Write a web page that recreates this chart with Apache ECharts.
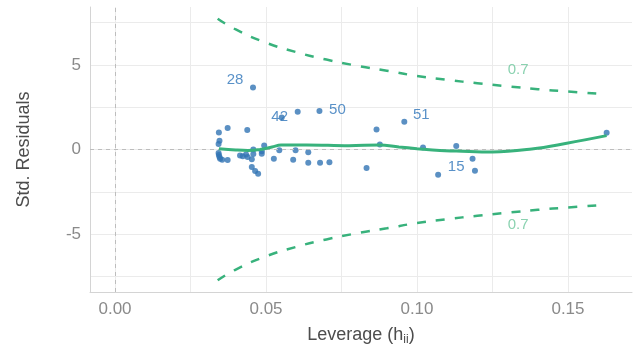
<!DOCTYPE html>
<html>
<head>
<meta charset="utf-8">
<script src="https://cdn.jsdelivr.net/npm/echarts@6/dist/echarts.min.js"></script>
<style>
html, body { margin: 0; padding: 0; background: #fff; }
#chart { width: 634px; height: 351px; }
</style>
</head>
<body>
<div id="chart"></div>
<script>
// observations: leverage (h_ii) vs standardized residual
var leverage = [0.0457, 0.0552, 0.0605, 0.0677, 0.0958, 0.0866, 0.0877, 0.102, 0.0833, 0.071,
    0.0679, 0.064, 0.064, 0.0598, 0.059, 0.0544, 0.0526, 0.0494, 0.0486, 0.0458,
    0.0458, 0.0453, 0.0453, 0.0464, 0.0474, 0.0438, 0.0373, 0.0344, 0.0346, 0.0343,
    0.0344, 0.0348, 0.0355, 0.0373, 0.0414, 0.0423, 0.0434, 0.0439, 0.107, 0.113,
    0.1184, 0.1192, 0.1628, 0.0486, 0.0343, 0.0346];
var stdResid = [3.67, 1.89, 2.24, 2.28, 1.64, 1.19, 0.30, 0.12, -1.09, -0.75,
    -0.79, -0.79, -0.16, -0.04, -0.6, -0.04, -0.54, 0.24, -0.25, 0.0,
    -0.26, -0.58, -1.04, -1.27, -1.43, 1.15, 1.27, 1.0, 0.52, 0.32,
    -0.33, -0.55, -0.6, -0.62, -0.36, -0.4, -0.3, -0.45, -1.49, 0.2,
    -0.54, -1.25, 0.99, -0.1, -0.2, -0.45];
var obsLabel = ['28', '42', '', '50', '51', '', '', '', '', '',
    '', '', '', '', '', '', '', '', '', '',
    '', '', '', '', '', '', '', '', '', '',
    '', '', '', '', '', '', '', '', '15', '',
    '', '', '', '', '', ''];

// smoother through the residuals
var smoothLev = [0.0344, 0.040, 0.044, 0.048, 0.052, 0.055, 0.0635, 0.0775, 0.0875, 0.094,
    0.100, 0.1076, 0.113, 0.125, 0.138, 0.1496, 0.1628];
var smoothRes = [0.05, -0.03, -0.06, 0.0, 0.15, 0.26, 0.27, 0.22, 0.27, 0.15,
    0.05, -0.06, -0.09, -0.15, 0.03, 0.37, 0.82];

// Cook's distance contour
var cookLev = [0.034, 0.04, 0.05, 0.06, 0.07, 0.08, 0.09, 0.10, 0.11, 0.12, 0.13, 0.14, 0.15, 0.162];
var cookUpper = [7.74, 7.1, 6.32, 5.76, 5.32, 4.96, 4.66, 4.35, 4.12, 3.92, 3.74, 3.57, 3.43, 3.28];
var cookLower = [-7.74, -7.1, -6.32, -5.76, -5.32, -4.96, -4.66, -4.35, -4.12, -3.92, -3.74, -3.57, -3.43, -3.28];
var cookLevel = '0.7';
var cookTextLev = 0.1335;
var cookTextRes = [4.7, -4.45];

var xLabels = [0, 0.05, 0.10, 0.15];
var xGrid = [0, 0.025, 0.05, 0.075, 0.10, 0.125, 0.15];
var yLabels = [-5, 0, 5];
var yGrid = [-7.5, -5, -2.5, 0, 2.5, 5, 7.5];

var blue = '#3274B4';
var green = '#38B27C';
var font = 'Liberation Sans';

// where each labelled point's text sits relative to the point
var labelOffset = {
    '28': [-18, -8],
    '42': [-2, -1],
    '50': [18, -1],
    '51': [17, -7],
    '15': [18, -8]
};

var points = leverage.map(function (h, i) {
    var id = obsLabel[i];
    var item = {value: [h, stdResid[i]]};
    if (id) {
        item.label = {
            show: true,
            formatter: id,
            position: 'inside',
            offset: labelOffset[id],
            color: '#2F76BA',
            fontSize: 15,
            fontFamily: font
        };
    }
    return item;
});

function zip(a, b) {
    return a.map(function (v, i) { return [v, b[i]]; });
}

var myChart = echarts.init(document.getElementById('chart'));

var option = {
    backgroundColor: '#fff',
    animation: false,
    grid: {left: 90, right: 2, top: 7, bottom: 59},
    xAxis: {
        type: 'value',
        min: -0.00828,
        max: 0.1712,
        name: 'Leverage (h{sub|ii})',
        nameLocation: 'middle',
        nameGap: 32,
        nameTextStyle: {
            color: '#4D4D4D', fontSize: 18, fontFamily: font,
            rich: {sub: {fontSize: 12, verticalAlign: 'bottom', padding: [10, 0, 0, 0], color: '#4D4D4D', fontFamily: font}}
        },
        axisLine: {show: true, onZero: false, lineStyle: {color: '#D4D4D4', width: 1}},
        axisTick: {show: false, customValues: xGrid},
        axisLabel: {
            customValues: xLabels,
            margin: 9,
            color: '#8A8A8A',
            fontSize: 17,
            fontFamily: font,
            formatter: function (v) { return v.toFixed(2); }
        },
        splitLine: {show: true, lineStyle: {color: '#EBEBEB', width: 1}}
    },
    yAxis: {
        type: 'value',
        min: -8.43,
        max: 8.43,
        name: 'Std. Residuals',
        nameLocation: 'middle',
        nameGap: 57,
        nameTextStyle: {color: '#4D4D4D', fontSize: 18, fontFamily: font},
        axisLine: {show: true, onZero: false, lineStyle: {color: '#D4D4D4', width: 1}},
        axisTick: {show: false, customValues: yGrid},
        axisLabel: {
            customValues: yLabels,
            margin: 9,
            color: '#8A8A8A',
            fontSize: 17,
            fontFamily: font
        },
        splitLine: {show: true, lineStyle: {color: '#EBEBEB', width: 1}}
    },
    series: [
        {
            // zero reference lines
            type: 'line',
            data: [],
            z: 1,
            markLine: {
                silent: true,
                symbol: 'none',
                label: {show: false},
                lineStyle: {color: '#BDBDBD', type: [4, 4], width: 1},
                data: [{xAxis: 0}, {yAxis: 0}]
            }
        },
        {
            type: 'line',
            data: zip(cookLev, cookUpper),
            smooth: true,
            showSymbol: false,
            z: 2,
            lineStyle: {color: green, width: 2.5, type: [9, 10]}
        },
        {
            type: 'line',
            data: zip(cookLev, cookLower),
            smooth: true,
            showSymbol: false,
            z: 2,
            lineStyle: {color: green, width: 2.5, type: [9, 10]}
        },
        {
            type: 'scatter',
            data: cookTextRes.map(function (r) { return [cookTextLev, r]; }),
            symbolSize: 0,
            z: 3,
            label: {
                show: true,
                position: 'inside',
                formatter: cookLevel,
                color: '#6DC79C',
                fontSize: 15,
                fontFamily: font
            }
        },
        {
            type: 'scatter',
            data: points,
            symbolSize: 6,
            z: 4,
            itemStyle: {color: blue}
        },
        {
            type: 'line',
            data: zip(smoothLev, smoothRes),
            smooth: 0.4,
            showSymbol: false,
            z: 5,
            lineStyle: {color: green, width: 3}
        }
    ]
};

myChart.setOption(option);
</script>
</body>
</html>
